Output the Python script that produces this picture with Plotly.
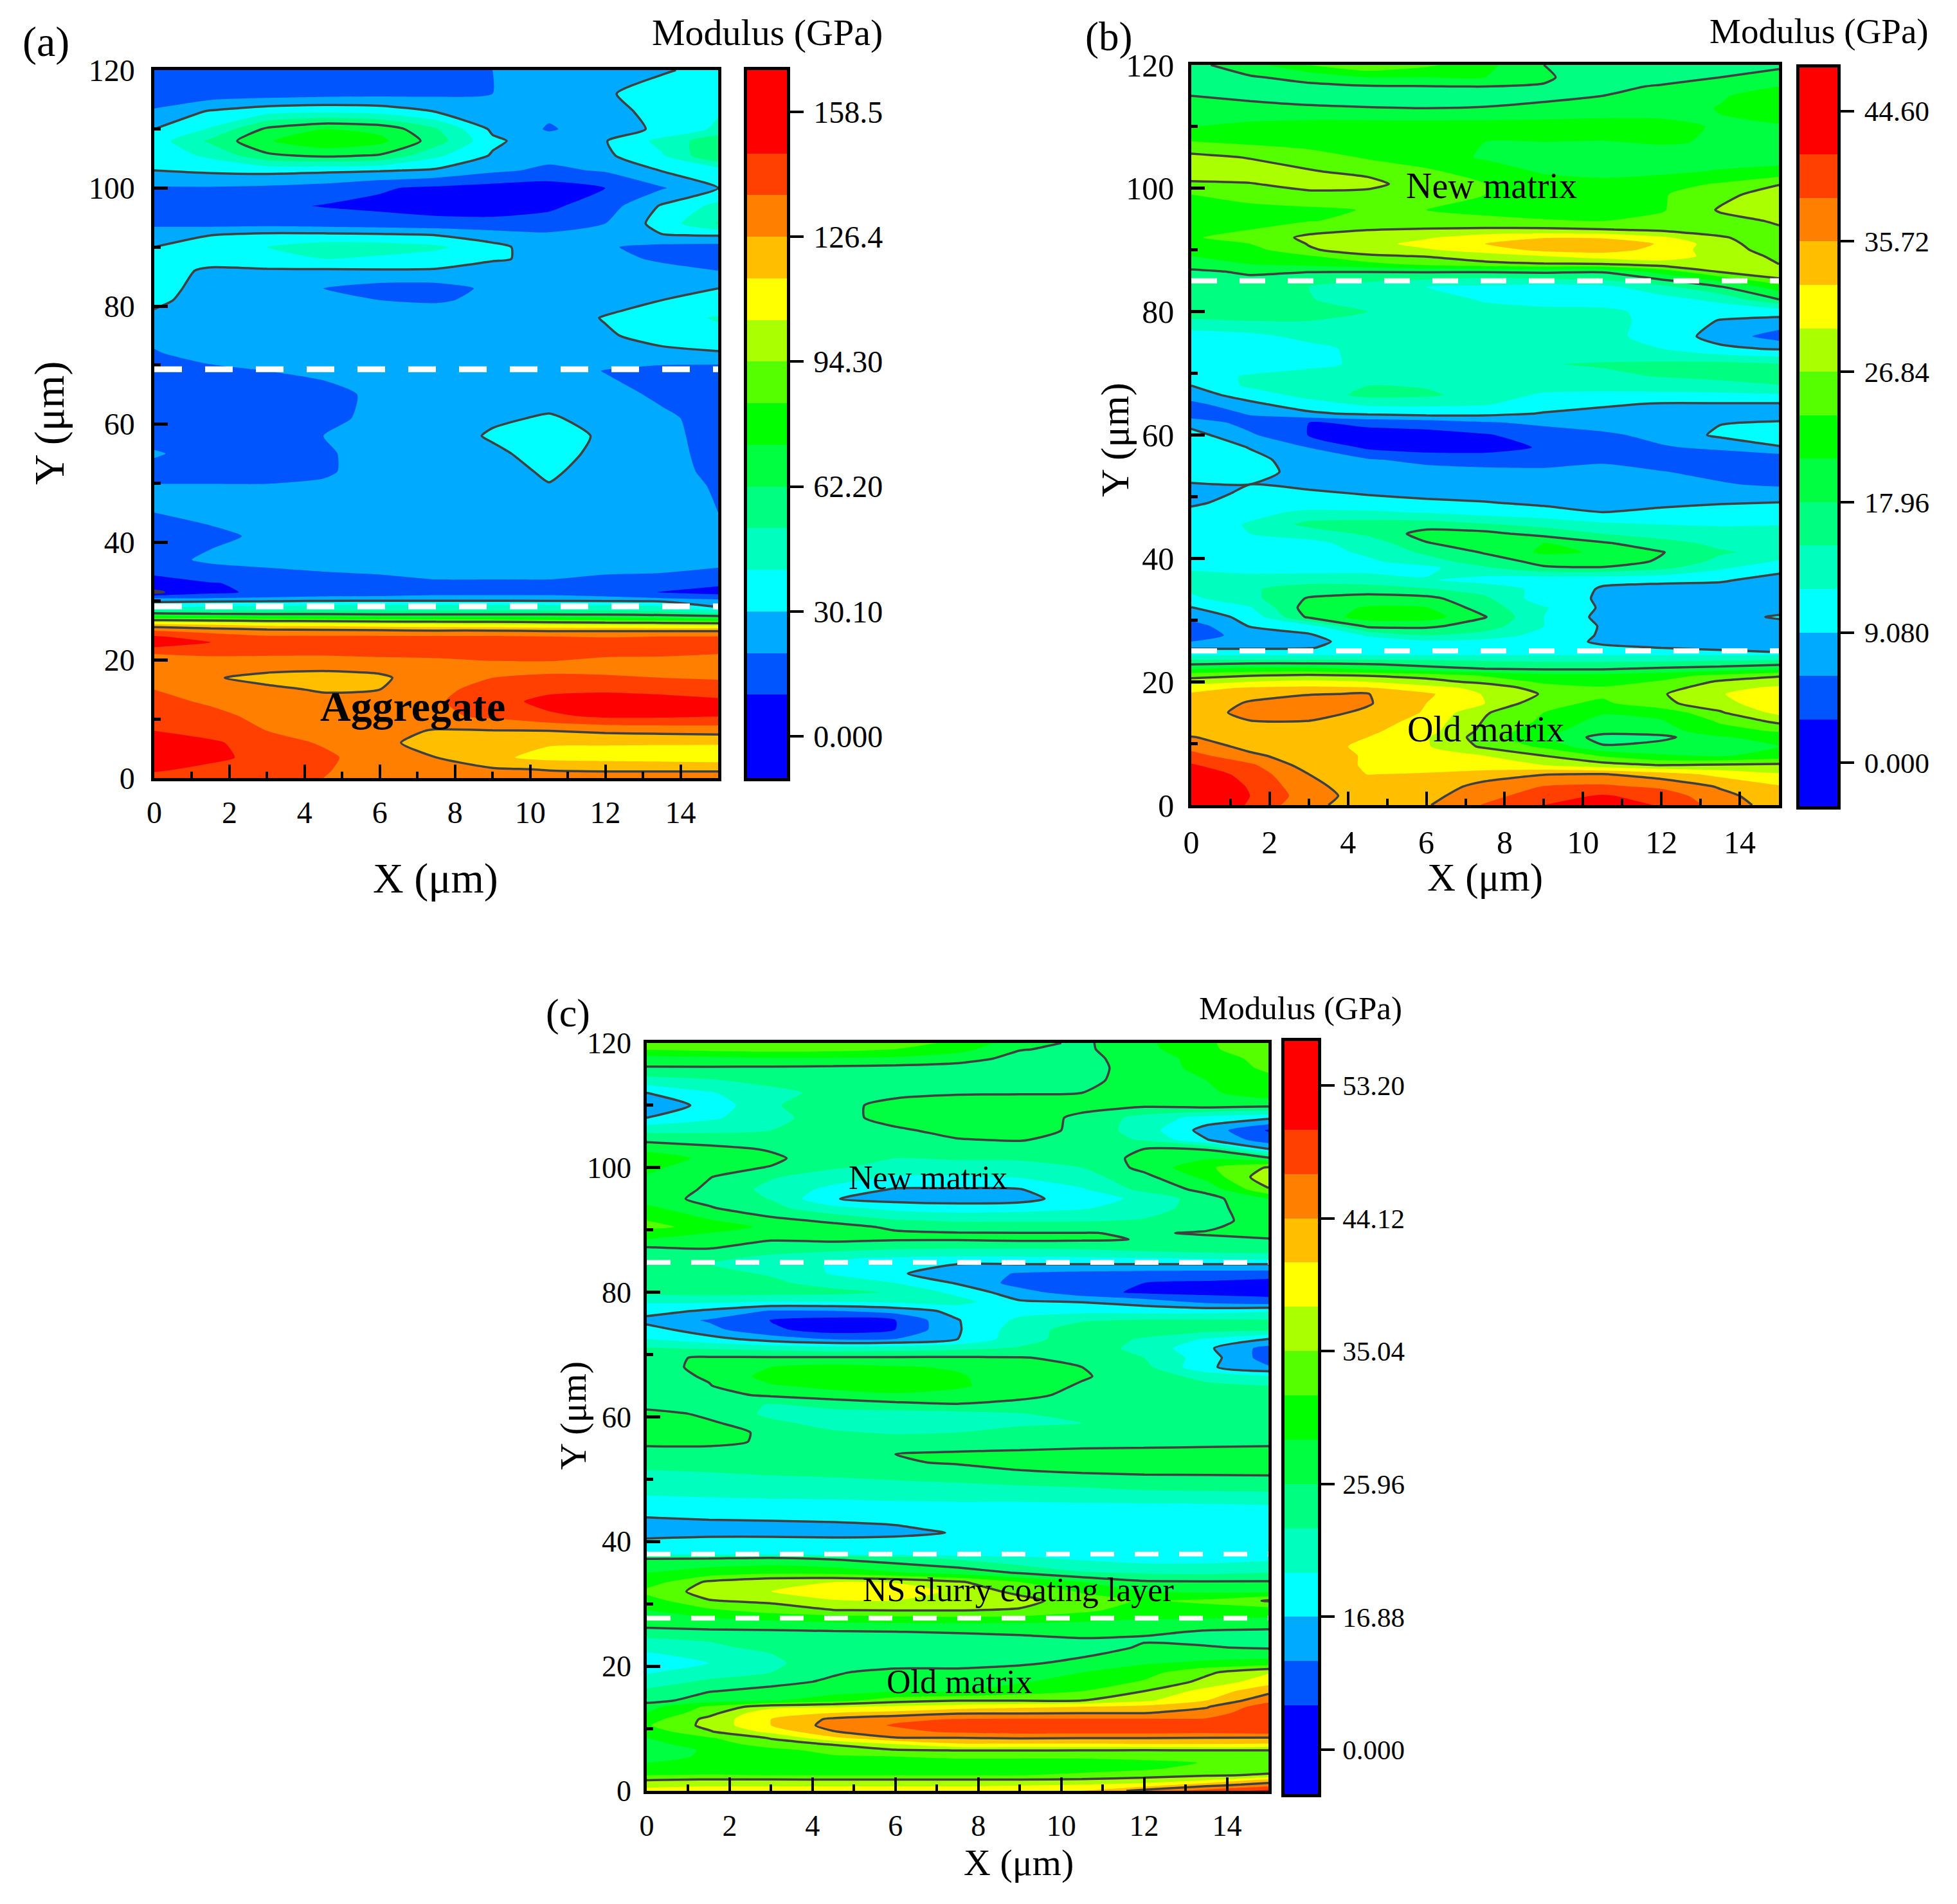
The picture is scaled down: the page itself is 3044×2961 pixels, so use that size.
"""Modulus maps of the three interface zones, panels (a), (b) and (c)."""

import numpy as np
import plotly.graph_objects as go

WIDTH = 3044
HEIGHT = 2961
FONT = "Liberation Serif"
BLACK = "#000000"
LINE_GREY = "#404040"
SMOOTHING = 0.6

BAND_COLORS = [
    "#0000ff", "#0055ff", "#00aaff", "#00ffff", "#00ffbf", "#00ff80", "#00ff40", "#00ff00",
    "#55ff00", "#aaff00", "#ffff00", "#ffbf00", "#ff8000", "#ff4000", "#ff0000",
]
BAR_EDGES = [-1, 1, 2, 3, 4, 5, 6, 7, 8, 9, 10, 11, 12, 13, 14, 16]
BAR_TICKS = [0, 3, 6, 9, 12, 15]

# Grid columns shared by all panels (um). Map values are colour-band positions:
# 3 is the first labelled level above 0.000, 6 the second, and so on.
X = [0, 1.5, 3, 4.5, 6, 7.5, 9, 10.5, 12, 13.5, 15]

LABELS_A = ["0.000", "30.10", "62.20", "94.30", "126.4", "158.5"]
LABELS_B = ["0.000", "9.080", "17.96", "26.84", "35.72", "44.60"]
LABELS_C = ["0.000", "16.88", "25.96", "35.04", "44.12", "53.20"]

DASH_Y_A = [69.3, 29.1]
DASH_Y_B = [85, 25]
DASH_Y_C = [84.8, 38, 27.7]

Y_A = [120, 116, 113, 110, 108, 105.5, 103, 100, 97, 94, 92, 90, 88, 86, 83, 81, 78, 75, 72, 69, 65, 61, 58, 55, 52,
       49.5, 45, 41, 37, 33, 31.5, 30.5, 30, 29, 28, 27, 26, 25, 24, 23, 21, 19, 17, 15, 13, 10.5, 8, 6, 3.5, 1.5, 0]
Z_A = [
    [1.4, 1.5, 1.5, 1.6, 1.6, 1.7, 2.0, 2.3, 2.6, 2.9, 3.3],
    [1.0, 1.4, 1.5, 1.6, 1.7, 1.8, 2.0, 2.4, 2.9, 3.4, 3.9],
    [2.2, 3.1, 3.6, 3.8, 3.6, 2.95, 2.4, 2.2, 2.6, 3.4, 3.9],
    [3.0, 4.1, 6.2, 7.0, 6.7, 5.1, 2.8, 1.9, 2.5, 3.2, 4.2],
    [3.5, 5.2, 6.9, 7.8, 7.3, 5.5, 3.2, 2.4, 2.95, 4.3, 5.7],
    [3.4, 4.2, 5.8, 6.2, 5.9, 4.2, 2.9, 2.3, 2.8, 3.9, 6.0],
    [3.0, 3.2, 3.3, 3.2, 3.1, 2.85, 2.2, 1.8, 2.1, 3.05, 3.5],
    [1.9, 1.9, 1.8, 1.6, 1.1, 0.8, 0.6, 0.5, 1.0, 1.9, 3.0],
    [1.4, 1.4, 1.2, 0.95, 0.8, 0.6, 0.5, 0.8, 1.5, 3.1, 4.3],
    [1.8, 1.6, 1.6, 1.5, 1.4, 1.3, 1.3, 1.4, 2.0, 3.4, 5.1],
    [2.5, 3.0, 3.3, 3.3, 3.2, 3.0, 2.5, 2.2, 2.4, 2.95, 3.05],
    [3.0, 3.5, 4.0, 4.5, 4.5, 4.2, 3.3, 2.4, 2.1, 1.7, 1.6],
    [3.3, 3.5, 3.8, 4.0, 3.8, 3.5, 3.1, 2.8, 2.4, 1.8, 1.6],
    [3.5, 2.8, 2.85, 2.85, 2.9, 2.9, 2.6, 2.5, 2.6, 2.4, 2.0],
    [3.3, 2.7, 2.4, 2.0, 1.6, 1.6, 2.2, 2.5, 2.6, 2.8, 3.0],
    [3.2, 2.6, 2.5, 2.3, 2.0, 1.9, 2.2, 2.5, 2.7, 3.0, 3.3],
    [2.8, 2.5, 2.5, 2.5, 2.5, 2.5, 2.5, 2.6, 3.05, 3.6, 4.1],
    [2.3, 2.5, 2.6, 2.6, 2.6, 2.6, 2.6, 2.6, 2.9, 3.3, 3.7],
    [1.9, 2.5, 2.5, 2.5, 2.5, 2.5, 2.5, 2.5, 2.6, 2.8, 2.9],
    [1.5, 1.7, 2.0, 2.2, 2.5, 2.6, 2.6, 2.6, 1.95, 1.6, 1.5],
    [1.4, 1.4, 1.5, 1.7, 2.2, 2.5, 2.6, 2.6, 2.4, 1.8, 1.5],
    [1.4, 1.4, 1.5, 1.8, 2.2, 2.4, 2.85, 3.1, 2.7, 2.2, 1.6],
    [1.6, 1.5, 1.6, 2.0, 2.3, 2.5, 3.12, 3.7, 2.75, 2.3, 1.6],
    [2.1, 1.6, 1.6, 1.9, 2.3, 2.5, 2.8, 3.4, 2.7, 2.3, 1.7],
    [1.7, 1.7, 1.7, 1.9, 2.3, 2.5, 2.6, 3.15, 2.6, 2.3, 1.8],
    [2.05, 2.05, 2.05, 2.1, 2.4, 2.5, 2.6, 2.95, 2.6, 2.4, 1.9],
    [2.0, 2.3, 2.4, 2.5, 2.5, 2.5, 2.5, 2.5, 2.5, 2.5, 2.0],
    [1.6, 1.75, 2.2, 2.4, 2.5, 2.5, 2.5, 2.5, 2.5, 2.5, 2.2],
    [1.6, 2.2, 2.4, 2.5, 2.5, 2.5, 2.5, 2.5, 2.5, 2.5, 2.4],
    [0.7, 0.95, 1.2, 1.5, 1.7, 1.9, 1.9, 1.9, 1.7, 1.6, 1.2],
    [-0.15, 0.7, 1.3, 1.5, 1.6, 1.7, 1.7, 1.7, 1.5, 0.95, 0.6],
    [1.9, 2.0, 2.1, 2.2, 2.2, 2.3, 2.3, 2.3, 2.2, 2.0, 1.7],
    [2.8, 2.9, 2.95, 3.05, 3.1, 3.1, 3.1, 3.05, 3.0, 2.9, 2.4],
    [3.9, 4.1, 4.2, 4.4, 4.4, 4.4, 4.4, 4.4, 4.4, 4.2, 3.0],
    [5.8, 5.6, 5.5, 5.5, 5.4, 5.4, 5.4, 5.4, 5.4, 5.3, 4.8],
    [8.3, 8.2, 8.0, 7.9, 7.8, 7.7, 7.7, 7.6, 7.4, 7.2, 7.0],
    [11.3, 11.0, 10.7, 10.6, 10.4, 10.3, 10.2, 10.0, 9.9, 9.8, 9.6],
    [13.0, 12.6, 12.3, 12.2, 12.1, 12.0, 12.0, 11.9, 11.9, 11.9, 11.9],
    [14.1, 13.5, 13.1, 13.1, 13.1, 13.1, 13.1, 13.0, 12.9, 13.0, 13.0],
    [14.7, 14.0, 13.6, 13.5, 13.5, 13.5, 13.6, 13.6, 13.5, 13.5, 13.5],
    [13.0, 13.1, 13.1, 13.1, 13.2, 13.2, 13.4, 13.3, 13.1, 13.1, 13.0],
    [12.5, 12.5, 12.4, 12.3, 12.4, 12.6, 12.7, 12.8, 12.7, 12.6, 12.5],
    [12.5, 12.1, 11.7, 11.6, 11.8, 12.7, 13.0, 13.1, 13.1, 13.0, 12.9],
    [13.0, 12.6, 12.2, 11.9, 12.0, 12.8, 13.3, 13.7, 13.8, 13.7, 13.5],
    [13.2, 12.9, 12.6, 12.3, 12.5, 12.9, 13.5, 14.4, 14.6, 14.4, 14.2],
    [13.5, 13.2, 12.8, 12.6, 12.6, 12.8, 13.2, 13.8, 14.2, 14.2, 14.05],
    [14.0, 13.5, 13.0, 12.7, 12.4, 11.9, 11.95, 12.0, 12.2, 12.3, 12.4],
    [14.7, 14.2, 13.4, 12.9, 12.3, 11.5, 11.3, 11.1, 11.1, 11.1, 11.1],
    [14.8, 14.3, 13.6, 13.2, 12.5, 12.0, 11.2, 10.7, 10.6, 10.5, 10.4],
    [14.2, 13.7, 13.3, 13.1, 12.5, 12.3, 12.1, 11.95, 11.9, 11.9, 11.9],
    [13.6, 13.4, 13.2, 13.0, 12.6, 12.5, 12.4, 12.3, 12.3, 12.3, 12.3],
]

Y_B = [120, 118, 116.5, 115, 113, 110, 107.5, 105, 102.7, 100.7, 99, 96.5, 94.7, 93.3, 92, 91, 90, 89, 87.7, 86.5,
       85.2, 84, 82, 80, 78.5, 76, 74, 71.5, 69.5, 68, 66.5, 65, 63.5, 62, 60, 58, 56, 54, 52, 50.5, 49, 47.5, 45.5,
       44, 42.5, 41, 39.5, 38.5, 36.5, 35, 33.5, 32, 30.5, 29, 27.5, 26.5, 25.5, 24.8, 24.3, 23.5, 22.8, 22, 21, 20,
       19, 18, 16.5, 15, 13.5, 12, 11, 9.5, 8, 6.5, 5, 3, 1.5, 0]
Z_B = [
    [5.7, 6.6, 8.0, 8.9, 8.2, 7.3, 6.0, 5.4, 5.0, 5.3, 5.8],
    [5.3, 5.9, 6.3, 7.0, 7.0, 7.0, 6.1, 5.6, 5.6, 6.0, 6.4],
    [5.3, 5.6, 5.8, 5.9, 5.95, 6.0, 5.95, 5.75, 6.1, 6.6, 7.0],
    [6.0, 5.85, 5.7, 5.5, 5.5, 5.6, 5.8, 6.0, 6.3, 6.9, 7.5],
    [6.4, 6.2, 6.1, 6.05, 6.0, 6.05, 6.2, 6.4, 6.6, 7.05, 7.6],
    [6.97, 7.3, 7.5, 7.5, 7.5, 7.5, 7.5, 7.5, 7.3, 6.9, 6.9],
    [8.05, 7.8, 7.55, 7.5, 7.2, 7.0, 7.0, 6.95, 7.1, 6.9, 6.8],
    [9.3, 8.95, 8.5, 7.9, 7.4, 6.9, 6.5, 6.5, 6.5, 6.5, 6.6],
    [9.7, 9.5, 9.1, 8.7, 8.2, 7.5, 6.9, 6.7, 6.8, 7.1, 7.3],
    [8.8, 8.95, 9.3, 9.4, 8.3, 8.0, 7.4, 7.3, 7.6, 8.1, 8.95],
    [8.0, 8.4, 8.8, 8.6, 8.3, 8.0, 7.5, 7.4, 7.9, 8.7, 9.5],
    [7.7, 7.7, 7.8, 8.05, 8.0, 7.8, 7.5, 7.5, 7.9, 9.1, 9.4],
    [7.3, 7.6, 7.97, 8.15, 8.2, 8.2, 8.1, 8.0, 8.3, 8.7, 9.1],
    [7.5, 8.0, 8.7, 8.97, 9.1, 9.2, 9.2, 9.05, 8.8, 8.6, 8.9],
    [7.9, 8.4, 9.2, 9.6, 9.9, 10.6, 10.95, 10.9, 10.2, 9.1, 8.5],
    [7.6, 8.0, 9.05, 9.7, 10.3, 11.0, 11.6, 11.7, 10.9, 9.4, 8.3],
    [7.1, 7.6, 8.9, 9.4, 9.9, 10.4, 11.3, 11.4, 10.7, 9.4, 8.6],
    [7.0, 7.3, 7.9, 8.85, 9.05, 9.6, 10.0, 10.5, 10.6, 9.6, 8.8],
    [6.95, 7.0, 7.3, 7.7, 8.3, 8.7, 8.9, 8.95, 9.5, 9.5, 9.0],
    [5.6, 6.3, 6.05, 6.05, 6.1, 6.1, 6.2, 6.1, 7.4, 9.1, 9.5],
    [5.8, 5.6, 5.3, 5.2, 5.0, 4.7, 4.9, 5.1, 6.0, 7.3, 8.9],
    [5.7, 5.2, 5.0, 4.6, 4.0, 3.8, 3.5, 3.7, 4.7, 5.9, 7.5],
    [5.4, 5.1, 5.05, 4.6, 4.4, 3.9, 3.7, 3.4, 3.6, 4.3, 6.0],
    [5.3, 5.3, 5.2, 5.0, 4.6, 4.3, 4.2, 4.3, 3.6, 3.3, 3.4],
    [4.9, 5.0, 5.0, 5.0, 4.6, 4.5, 4.4, 4.4, 3.6, 2.95, 2.7],
    [3.4, 3.7, 4.3, 4.5, 4.5, 4.5, 4.5, 4.3, 3.6, 2.6, 1.5],
    [3.2, 3.4, 3.7, 4.3, 4.5, 4.5, 4.5, 4.3, 4.0, 3.2, 2.9],
    [3.3, 3.5, 3.75, 4.2, 4.7, 4.8, 4.95, 5.1, 5.2, 5.3, 5.05],
    [3.6, 4.1, 4.4, 4.6, 4.7, 4.6, 4.6, 4.8, 5.05, 5.3, 5.5],
    [3.0, 4.2, 4.5, 5.0, 4.9, 4.6, 4.4, 4.3, 4.4, 4.6, 4.95],
    [2.6, 3.4, 4.4, 5.3, 5.2, 4.5, 3.85, 3.8, 3.8, 3.8, 3.9],
    [1.7, 2.8, 3.5, 4.2, 4.2, 4.1, 3.4, 3.15, 2.9, 2.9, 2.9],
    [1.3, 2.1, 2.85, 3.2, 3.4, 3.3, 2.95, 2.7, 2.6, 2.5, 2.5],
    [2.6, 1.6, 1.0, 1.3, 1.5, 1.9, 2.2, 2.5, 2.7, 2.95, 3.1],
    [3.4, 2.15, 0.95, 0.5, 0.6, 0.9, 1.5, 1.8, 2.3, 3.2, 3.8],
    [3.8, 2.95, 1.98, 0.8, 0.5, 0.6, 1.1, 1.5, 1.9, 2.2, 2.9],
    [3.9, 3.3, 2.5, 2.1, 1.7, 1.5, 1.6, 1.85, 1.5, 1.3, 1.2],
    [3.8, 3.2, 2.8, 2.5, 2.4, 2.3, 2.2, 2.3, 2.05, 1.7, 1.3],
    [2.9, 3.0, 2.8, 2.6, 2.5, 2.4, 2.4, 2.4, 2.3, 2.1, 1.8],
    [2.4, 3.3, 3.15, 2.95, 2.8, 2.7, 2.6, 2.6, 2.5, 2.5, 2.6],
    [2.8, 3.5, 3.4, 3.3, 3.15, 3.05, 2.85, 2.65, 2.8, 2.95, 3.02],
    [3.3, 3.7, 4.2, 4.15, 3.9, 3.55, 3.3, 3.0, 3.2, 3.3, 3.4],
    [3.4, 4.1, 5.3, 5.5, 5.5, 5.1, 4.7, 4.2, 4.0, 3.9, 3.95],
    [3.4, 4.0, 4.4, 5.2, 6.4, 6.3, 5.6, 5.0, 4.5, 4.4, 4.6],
    [3.3, 3.4, 3.75, 4.4, 5.95, 6.6, 7.0, 6.1, 5.4, 4.7, 4.5],
    [3.1, 3.3, 3.5, 4.2, 5.2, 6.1, 7.2, 6.9, 6.05, 5.15, 4.6],
    [3.0, 3.2, 3.3, 3.8, 4.6, 5.5, 6.3, 6.4, 5.9, 4.7, 3.9],
    [3.9, 3.5, 3.4, 3.5, 3.7, 4.9, 5.9, 5.95, 5.3, 4.2, 3.3],
    [4.3, 4.5, 4.7, 4.6, 4.1, 3.6, 3.3, 3.2, 3.2, 3.1, 2.7],
    [4.2, 4.9, 5.4, 5.4, 5.1, 4.6, 3.7, 2.9, 2.7, 2.7, 2.6],
    [3.8, 4.7, 6.1, 6.5, 6.3, 5.2, 3.4, 2.9, 2.6, 2.6, 2.6],
    [2.95, 3.9, 6.5, 7.1, 7.05, 5.5, 4.1, 2.85, 2.5, 2.5, 2.5],
    [2.4, 3.3, 6.2, 7.5, 7.5, 6.05, 4.0, 2.7, 2.4, 2.5, 3.15],
    [1.5, 3.05, 3.6, 6.2, 6.2, 5.5, 4.0, 2.9, 2.4, 2.5, 2.5],
    [1.5, 2.4, 2.85, 4.1, 5.0, 4.6, 3.6, 2.9, 2.5, 2.5, 2.5],
    [2.0, 2.6, 2.7, 3.5, 3.8, 3.6, 3.3, 2.9, 2.7, 2.6, 2.6],
    [2.9, 2.9, 2.95, 3.4, 3.5, 3.4, 3.3, 3.1, 3.0, 2.9, 2.85],
    [3.3, 3.3, 3.3, 3.3, 3.3, 3.3, 3.3, 3.3, 3.2, 3.1, 3.0],
    [4.0, 4.0, 4.0, 4.0, 4.0, 4.0, 4.0, 4.0, 4.0, 4.0, 4.0],
    [5.1, 5.1, 5.1, 5.1, 5.0, 4.9, 4.8, 4.8, 4.8, 4.9, 5.0],
    [6.0, 6.3, 6.3, 6.1, 5.7, 5.4, 5.3, 5.3, 5.4, 5.6, 5.9],
    [7.0, 7.4, 7.4, 7.0, 6.5, 6.1, 6.0, 6.0, 6.3, 6.6, 6.9],
    [8.7, 8.95, 9.2, 8.95, 8.6, 7.9, 7.3, 7.3, 7.6, 8.3, 8.9],
    [9.4, 10.0, 10.2, 10.0, 9.4, 8.7, 7.8, 7.6, 8.1, 9.15, 9.5],
    [10.7, 11.1, 11.25, 11.1, 10.4, 9.7, 8.5, 8.1, 8.5, 9.7, 10.2],
    [11.1, 11.7, 11.95, 12.05, 11.2, 9.9, 8.9, 8.2, 8.9, 9.9, 11.0],
    [11.4, 12.1, 12.5, 12.1, 11.0, 10.0, 8.3, 7.8, 8.8, 9.5, 11.0],
    [11.5, 12.3, 12.4, 11.8, 10.9, 9.1, 8.0, 7.1, 7.3, 8.9, 10.3],
    [11.4, 11.95, 11.95, 11.5, 10.6, 8.9, 7.8, 6.6, 6.9, 8.1, 9.2],
    [11.5, 11.6, 11.6, 11.2, 10.4, 8.7, 7.3, 6.4, 6.6, 7.6, 8.1],
    [12.05, 11.5, 11.3, 11.0, 10.1, 8.5, 7.05, 5.6, 5.7, 6.9, 7.4],
    [12.6, 11.7, 11.2, 10.9, 10.1, 8.8, 7.8, 6.1, 6.5, 7.0, 7.0],
    [13.4, 12.2, 11.5, 10.9, 10.3, 10.0, 9.0, 7.9, 7.1, 6.9, 7.4],
    [14.1, 13.2, 11.5, 10.9, 10.5, 10.2, 10.0, 9.4, 8.95, 9.1, 9.2],
    [14.8, 13.6, 12.0, 10.98, 11.1, 11.6, 11.95, 12.05, 11.5, 10.7, 10.1],
    [15.2, 13.9, 12.3, 11.4, 11.5, 12.3, 13.05, 13.2, 12.8, 11.9, 11.1],
    [15.0, 14.0, 12.5, 11.5, 11.7, 12.6, 13.6, 14.1, 13.6, 12.3, 11.4],
    [15.0, 13.9, 12.2, 11.6, 11.9, 13.1, 14.0, 14.6, 13.9, 12.6, 11.5],
]

Y_C = [120, 119, 117.5, 116, 114, 112, 110, 108, 106, 104.5, 103, 101.5, 100, 98.5, 96.5, 95, 93.5, 91.5, 90.5, 89.5,
       88.5, 87, 85.5, 84.5, 83, 81.5, 80, 78.5, 77, 75.5, 74, 72.5, 71, 69.5, 68, 66.5, 65, 63.5, 62, 60.5, 59, 57.5,
       56, 55.3, 54, 52.7, 51.5, 50, 48, 46.5, 45, 43.5, 42, 41.4, 40.5, 38, 37.5, 36.5, 35, 33.5, 32, 30.5, 29, 27.8,
       26.5, 25.5, 24.5, 23, 22, 20.5, 19, 17.5, 16, 14.5, 13.5, 12.5, 11.5, 10.5, 9.5, 8.5, 7.5, 6.5, 5.5, 4.5, 3.5,
       2.5, 1.8, 1, 0]
Z_C = [
    [8.6, 8.9, 9.0, 9.0, 8.4, 7.8, 6.4, 5.8, 6.8, 7.8, 9.0],
    [8.1, 8.3, 8.4, 8.3, 8.0, 7.4, 6.05, 5.8, 6.7, 7.8, 8.7],
    [6.6, 6.7, 6.9, 6.9, 6.8, 6.4, 5.7, 5.7, 6.5, 7.4, 8.4],
    [5.9, 5.9, 5.85, 5.8, 5.7, 5.6, 5.5, 5.6, 6.5, 7.3, 8.2],
    [4.6, 4.9, 5.3, 5.5, 5.5, 5.5, 5.5, 5.7, 6.5, 7.0, 7.7],
    [3.0, 3.9, 4.7, 5.3, 5.6, 5.85, 5.9, 6.0, 6.5, 6.8, 7.6],
    [2.3, 3.3, 4.9, 5.5, 6.5, 6.8, 6.8, 6.3, 6.2, 6.5, 6.3],
    [3.0, 3.8, 4.7, 5.5, 6.5, 6.7, 6.5, 5.8, 4.6, 3.6, 3.2],
    [4.7, 4.8, 5.0, 5.5, 5.8, 6.4, 6.6, 5.7, 4.5, 2.6, 0.9],
    [5.7, 5.5, 5.5, 5.5, 5.5, 5.95, 6.1, 5.5, 4.9, 3.05, 1.4],
    [6.8, 6.3, 5.9, 5.5, 5.4, 5.4, 5.4, 5.3, 6.0, 5.9, 3.0],
    [7.5, 6.8, 6.2, 5.4, 5.0, 5.1, 5.1, 5.1, 6.4, 6.9, 6.2],
    [7.3, 6.3, 5.95, 5.1, 4.7, 4.6, 4.7, 5.0, 6.3, 7.8, 9.1],
    [6.9, 6.05, 5.1, 4.5, 3.9, 3.9, 4.1, 4.6, 5.7, 7.3, 9.7],
    [6.9, 5.8, 4.7, 3.7, 2.9, 2.9, 2.95, 3.9, 5.3, 6.3, 8.9],
    [6.5, 5.7, 4.95, 3.05, 2.6, 2.5, 2.6, 3.6, 4.2, 5.6, 7.0],
    [7.3, 6.1, 5.3, 4.3, 3.7, 3.5, 3.6, 3.9, 4.5, 5.5, 6.9],
    [8.0, 7.1, 6.3, 5.8, 5.1, 4.9, 4.9, 4.9, 5.1, 5.6, 6.5],
    [8.4, 7.5, 6.8, 6.3, 5.85, 5.5, 5.5, 5.6, 5.6, 5.9, 6.3],
    [7.3, 7.0, 6.7, 6.5, 6.1, 6.05, 6.02, 6.02, 5.95, 6.05, 6.3],
    [7.0, 6.6, 6.05, 6.2, 6.1, 6.1, 6.2, 6.15, 5.95, 5.9, 5.95],
    [5.8, 6.0, 5.7, 5.4, 5.1, 5.0, 5.0, 5.1, 5.4, 5.6, 5.6],
    [5.7, 5.4, 4.6, 4.1, 3.9, 3.8, 3.85, 3.9, 4.0, 4.2, 4.4],
    [5.4, 5.0, 4.5, 3.9, 3.4, 3.0, 3.0, 3.0, 3.0, 3.0, 3.0],
    [5.5, 5.3, 4.9, 3.9, 3.1, 2.6, 1.9, 1.7, 1.6, 1.55, 1.5],
    [5.6, 5.5, 5.2, 4.6, 4.0, 2.9, 1.6, 1.2, 1.0, 0.85, 0.6],
    [5.3, 5.4, 5.4, 5.3, 4.9, 3.7, 2.4, 1.4, 0.8, 0.7, 0.7],
    [4.1, 4.2, 3.95, 4.0, 4.2, 4.4, 3.1, 2.95, 2.5, 1.7, 1.3],
    [3.5, 2.8, 1.9, 1.95, 2.4, 3.3, 3.7, 3.7, 3.6, 3.6, 3.9],
    [2.6, 1.9, 0.95, 0.6, 0.97, 2.95, 4.2, 4.9, 5.1, 5.1, 5.1],
    [3.5, 2.3, 1.2, 0.5, 1.0, 2.9, 4.5, 5.5, 5.5, 5.4, 5.2],
    [4.0, 3.4, 2.5, 1.9, 2.0, 3.0, 4.6, 5.5, 4.9, 3.9, 3.0],
    [5.1, 4.9, 4.7, 4.5, 4.6, 4.8, 5.1, 5.5, 4.7, 3.2, 1.6],
    [5.8, 6.1, 6.1, 6.1, 6.1, 6.1, 6.05, 5.8, 5.0, 3.5, 1.5],
    [5.7, 6.2, 7.0, 7.3, 7.1, 6.9, 6.4, 6.0, 5.3, 3.2, 2.1],
    [5.6, 6.1, 7.4, 8.0, 7.7, 7.1, 6.5, 6.1, 5.5, 4.7, 4.1],
    [5.6, 5.95, 6.9, 7.3, 7.4, 7.15, 6.5, 5.9, 5.5, 5.2, 5.0],
    [5.5, 5.7, 6.15, 6.6, 6.9, 6.7, 6.3, 5.7, 5.5, 5.5, 5.5],
    [5.3, 5.4, 4.95, 5.3, 5.7, 5.95, 5.7, 5.5, 5.5, 5.5, 5.5],
    [6.6, 5.7, 4.8, 4.7, 4.6, 4.7, 4.95, 5.3, 5.5, 5.5, 5.5],
    [6.7, 6.2, 5.2, 4.7, 4.5, 4.6, 4.85, 5.0, 5.3, 5.4, 5.5],
    [6.7, 6.6, 5.7, 5.1, 4.9, 5.0, 5.3, 5.5, 5.5, 5.5, 5.5],
    [6.5, 6.5, 5.7, 5.5, 5.5, 5.5, 5.6, 5.7, 5.8, 5.9, 5.95],
    [6.0, 6.0, 5.6, 5.6, 5.6, 5.6, 5.7, 5.85, 5.9, 5.95, 6.0],
    [5.5, 5.5, 5.5, 5.5, 6.0, 6.2, 6.3, 6.4, 6.4, 6.5, 6.5],
    [5.4, 5.4, 5.4, 5.5, 5.9, 6.1, 6.4, 6.7, 6.8, 6.8, 6.8],
    [5.0, 5.1, 5.3, 5.4, 5.5, 5.7, 6.02, 6.2, 6.3, 6.3, 6.3],
    [4.6, 4.7, 4.8, 4.9, 5.05, 5.2, 5.4, 5.6, 5.7, 5.75, 5.8],
    [4.2, 4.3, 4.3, 4.4, 4.4, 4.5, 4.6, 4.7, 4.9, 4.95, 5.0],
    [3.7, 3.8, 3.9, 3.9, 4.0, 4.05, 4.05, 4.1, 4.15, 4.2, 4.3],
    [3.3, 3.4, 3.4, 3.5, 3.5, 3.5, 3.5, 3.55, 3.55, 3.55, 3.6],
    [2.9, 3.0, 3.05, 3.1, 3.2, 3.3, 3.4, 3.4, 3.4, 3.4, 3.4],
    [2.5, 2.5, 2.6, 2.7, 2.85, 3.2, 3.4, 3.4, 3.4, 3.4, 3.4],
    [2.7, 2.75, 2.75, 2.75, 2.8, 3.05, 3.3, 3.3, 3.3, 3.3, 3.3],
    [3.0, 3.1, 3.1, 3.05, 3.1, 3.2, 3.3, 3.3, 3.3, 3.3, 3.3],
    [3.8, 3.7, 3.6, 3.5, 3.4, 3.3, 3.2, 3.2, 3.2, 3.2, 3.3],
    [5.8, 5.8, 5.9, 5.7, 5.2, 4.6, 4.1, 3.7, 3.5, 3.5, 3.7],
    [6.5, 6.7, 6.8, 6.5, 6.0, 5.5, 4.8, 4.3, 4.0, 4.0, 4.2],
    [7.0, 7.4, 7.8, 7.7, 7.1, 6.6, 5.9, 5.1, 4.9, 4.8, 5.0],
    [7.4, 9.2, 9.8, 10.0, 9.9, 9.15, 8.0, 7.0, 6.15, 6.1, 6.1],
    [8.3, 9.4, 10.0, 10.8, 10.9, 9.7, 8.7, 7.9, 7.0, 6.8, 6.8],
    [7.5, 8.95, 9.2, 9.9, 10.0, 9.5, 9.4, 8.4, 7.9, 8.2, 9.1],
    [7.0, 7.8, 8.5, 8.98, 9.05, 9.05, 8.9, 8.2, 7.6, 7.6, 7.5],
    [6.5, 7.0, 7.3, 7.6, 7.8, 7.9, 7.8, 7.6, 7.2, 7.1, 7.0],
    [6.1, 6.3, 6.5, 6.6, 6.6, 6.6, 6.6, 6.5, 6.3, 6.3, 6.4],
    [5.8, 5.8, 5.8, 5.9, 5.98, 6.1, 6.2, 6.3, 6.2, 5.9, 5.7],
    [5.0, 5.2, 5.4, 5.5, 5.5, 5.6, 5.8, 6.0, 5.9, 5.8, 5.0],
    [4.3, 4.7, 5.4, 5.5, 5.5, 5.5, 5.5, 5.6, 6.1, 6.05, 5.9],
    [3.9, 4.4, 5.0, 5.3, 5.5, 5.5, 5.6, 5.8, 6.4, 6.5, 6.5],
    [3.5, 4.0, 4.9, 5.3, 5.6, 5.6, 5.8, 6.3, 6.9, 7.2, 7.4],
    [3.9, 4.5, 5.0, 5.9, 6.3, 6.3, 6.6, 7.0, 7.6, 8.8, 9.9],
    [4.5, 5.2, 5.7, 6.15, 6.5, 6.6, 6.9, 7.4, 8.1, 9.3, 10.6],
    [5.2, 5.95, 6.3, 6.6, 6.9, 7.0, 7.5, 8.0, 9.0, 10.4, 11.7],
    [5.6, 6.5, 6.9, 7.6, 8.6, 8.95, 8.95, 9.0, 9.8, 11.0, 12.7],
    [6.6, 8.2, 9.6, 9.9, 10.2, 10.5, 10.8, 11.0, 11.3, 11.9, 13.6],
    [7.0, 8.6, 10.9, 11.0, 11.3, 11.85, 11.9, 11.95, 11.95, 12.4, 13.9],
    [7.5, 9.3, 11.0, 12.2, 12.8, 13.05, 13.1, 13.1, 13.1, 13.1, 13.9],
    [7.9, 9.3, 11.0, 12.4, 13.1, 13.7, 13.8, 13.8, 13.8, 13.7, 13.9],
    [7.4, 8.9, 10.3, 11.95, 12.7, 13.2, 13.4, 13.4, 13.4, 13.3, 13.5],
    [7.0, 7.9, 9.1, 10.8, 11.95, 12.0, 12.1, 12.05, 12.05, 12.0, 11.95],
    [6.7, 7.5, 8.5, 9.1, 10.0, 10.9, 10.9, 10.9, 11.0, 11.0, 10.9],
    [6.6, 7.1, 7.7, 8.3, 8.9, 9.02, 9.02, 9.0, 8.97, 9.0, 9.0],
    [6.5, 7.2, 7.6, 7.9, 8.0, 8.2, 8.2, 8.2, 8.4, 8.6, 8.8],
    [7.0, 7.3, 7.5, 7.5, 7.5, 7.6, 7.6, 7.6, 7.7, 8.05, 8.5],
    [7.6, 7.7, 7.7, 7.7, 7.7, 7.7, 7.7, 7.7, 7.9, 8.3, 8.7],
    [8.0, 8.05, 8.0, 8.0, 8.0, 8.0, 8.0, 8.2, 8.5, 8.9, 9.1],
    [8.9, 9.05, 9.05, 9.0, 9.0, 9.0, 9.0, 9.1, 9.4, 9.8, 11.2],
    [9.7, 9.8, 9.8, 9.8, 9.8, 9.8, 9.9, 10.0, 10.3, 11.5, 12.4],
    [10.3, 10.5, 10.5, 10.5, 10.5, 10.5, 10.5, 11.0, 12.4, 13.4, 14.3],
]

# One entry per panel: frame boxes in page pixels (left, right, top, bottom), fonts and labels.
PANELS = [
    dict(y=Y_A, z=Z_A, ticks=LABELS_A, dash_y=DASH_Y_A, box=(240, 1117, 109, 1210), bar=(1162, 1224, 109, 1210),
         tick_size=48, bar_size=48, title_size=66, head_size=58, panel_size=66, dash="43px,36px", dash_width=9,
         xstand=8, ystand=16, barstand=6,
         panel=("(a)", 71, 65), head=(1193, 50), xtitle=(677, 1366), ytitle=(77, 658),
         notes=[("<b>Aggregate</b>", 6.88, 12.2, 66)]),
    dict(y=Y_B, z=Z_B, ticks=LABELS_B, dash_y=DASH_Y_B, box=(1853, 2767, 101, 1252), bar=(2799, 2858, 105, 1254),
         tick_size=50, bar_size=45, title_size=61, head_size=55, panel_size=63, dash="40px,35px", dash_width=8,
         xstand=10, ystand=12, barstand=7,
         panel=("(b)", 1724, 57), head=(2829, 48), xtitle=(2310, 1365), ytitle=(1735, 684),
         notes=[("New matrix", 7.66, 100.4, 56), ("Old matrix", 7.51, 12.3, 56)]),
    dict(y=Y_C, z=Z_C, ticks=LABELS_C, dash_y=DASH_Y_C, box=(1006, 1973, 1622, 2785), bar=(1998, 2050, 1619, 2790),
         tick_size=46, bar_size=43, title_size=58, head_size=51, panel_size=62, dash="37px,32px", dash_width=7.5,
         xstand=10, ystand=10, barstand=4,
         panel=("(c)", 883, 1575), head=(2023, 1568), xtitle=(1584, 2896), ytitle=(891, 2202),
         notes=[("New matrix", 6.79, 98.4, 52), ("NS slurry coating layer", 8.97, 32.2, 52),
                ("Old matrix", 7.55, 17.5, 52)]),
]

BAND_SCALE = [[i / (len(BAND_COLORS) - 1), c] for i, c in enumerate(BAND_COLORS)]


def page_label(text, px, py, size, angle=0):
    return dict(text=text, x=px / WIDTH, y=1 - py / HEIGHT, xref="paper", yref="paper", showarrow=False,
                xanchor="center", yanchor="middle", textangle=angle, font=dict(family=FONT, size=size, color=BLACK))


def frame_axis(box_lo, box_hi, size):
    return dict(domain=[box_lo / size, box_hi / size], showline=True, mirror=True, linecolor=BLACK, linewidth=4.5,
                showgrid=False, zeroline=False, automargin=False)


def add_panel(fig, index, p):
    map_n, bar_n = 2 * index + 1, 2 * index + 2
    left, right, top, bottom = p["box"]
    b_left, b_right, b_top, b_bottom = p["bar"]
    tick_font = dict(family=FONT, size=p["tick_size"], color=BLACK)
    y = np.array(p["y"])[::-1]
    z = np.array(p["z"])[::-1]

    fig.add_trace(go.Contour(
        x=X, y=y, z=z, colorscale=BAND_SCALE, showscale=False, hoverinfo="skip",
        contours=dict(coloring="fill", showlines=False, start=1, end=14, size=1),
        line=dict(width=0, smoothing=SMOOTHING), xaxis=f"x{map_n}", yaxis=f"y{map_n}",
    ))
    fig.add_trace(go.Contour(
        x=X, y=y, z=z, showscale=False, hoverinfo="skip",
        contours=dict(coloring="none", start=0, end=12, size=3),
        line=dict(color=LINE_GREY, width=3.5, smoothing=SMOOTHING), xaxis=f"x{map_n}", yaxis=f"y{map_n}",
    ))
    bands = np.arange(len(BAND_COLORS)).reshape(-1, 1)
    fig.add_trace(go.Heatmap(
        x=[0, 1], y=BAR_EDGES, z=bands, zmin=0, zmax=len(BAND_COLORS) - 1, colorscale=BAND_SCALE,
        showscale=False, hoverinfo="skip", xaxis=f"x{bar_n}", yaxis=f"y{bar_n}",
    ))

    fig.layout[f"xaxis{map_n}"] = dict(
        **frame_axis(left, right, WIDTH), anchor=f"y{map_n}", range=[0, 15], tickmode="linear", tick0=0, dtick=2,
        ticks="inside", ticklen=21, tickwidth=4, tickcolor=BLACK, tickfont=tick_font, ticklabelstandoff=p["xstand"],
        minor=dict(dtick=1, ticks="inside", ticklen=10, tickwidth=4, tickcolor=BLACK, showgrid=False),
    )
    fig.layout[f"yaxis{map_n}"] = dict(
        **frame_axis(HEIGHT - bottom, HEIGHT - top, HEIGHT), anchor=f"x{map_n}", range=[0, 120], tickmode="linear",
        tick0=0, dtick=20, ticks="inside", ticklen=21, tickwidth=4.5, tickcolor=BLACK, tickfont=tick_font,
        ticklabelstandoff=p["ystand"],
        minor=dict(dtick=10, ticks="inside", ticklen=10, tickwidth=4.5, tickcolor=BLACK, showgrid=False),
    )
    fig.layout[f"xaxis{bar_n}"] = dict(
        **frame_axis(b_left, b_right, WIDTH), anchor=f"y{bar_n}", range=[0, 1], showticklabels=False, ticks="",
    )
    fig.layout[f"yaxis{bar_n}"] = dict(
        **frame_axis(HEIGHT - b_bottom, HEIGHT - b_top, HEIGHT), anchor=f"x{bar_n}", side="right", range=[-1, 16],
        tickmode="array", tickvals=BAR_TICKS, ticktext=p["ticks"], ticks="outside", ticklen=21, tickwidth=4,
        tickcolor=BLACK, tickfont=dict(family=FONT, size=p["bar_size"], color=BLACK), ticklabelstandoff=p["barstand"],
    )

    for dash_y in p["dash_y"]:
        fig.add_shape(type="line", x0=0, x1=15, y0=dash_y, y1=dash_y, xref=f"x{map_n}", yref=f"y{map_n}",
                      layer="above", line=dict(color="#ffffff", width=p["dash_width"], dash=p["dash"]))

    notes = [dict(text=t, x=nx, y=ny, xref=f"x{map_n}", yref=f"y{map_n}", showarrow=False,
                  font=dict(family=FONT, size=s, color=BLACK)) for t, nx, ny, s in p["notes"]]
    text, px, py = p["panel"]
    return notes + [
        page_label(text, px, py, p["panel_size"]),
        page_label("Modulus (GPa)", *p["head"], p["head_size"]),
        page_label("X (μm)", *p["xtitle"], p["title_size"]),
        page_label("Y (μm)", *p["ytitle"], p["title_size"], angle=-90),
    ]


fig = go.Figure()
annotations = []
for i, panel in enumerate(PANELS):
    annotations += add_panel(fig, i, panel)

fig.update_layout(
    width=WIDTH, height=HEIGHT, margin=dict(l=0, r=0, t=0, b=0), autosize=False,
    paper_bgcolor="#ffffff", plot_bgcolor="#ffffff", showlegend=False,
    font=dict(family=FONT, color=BLACK), annotations=annotations,
)

fig.write_html("out.html", config=dict(displayModeBar=False), post_script="document.body.style.margin='0';")
